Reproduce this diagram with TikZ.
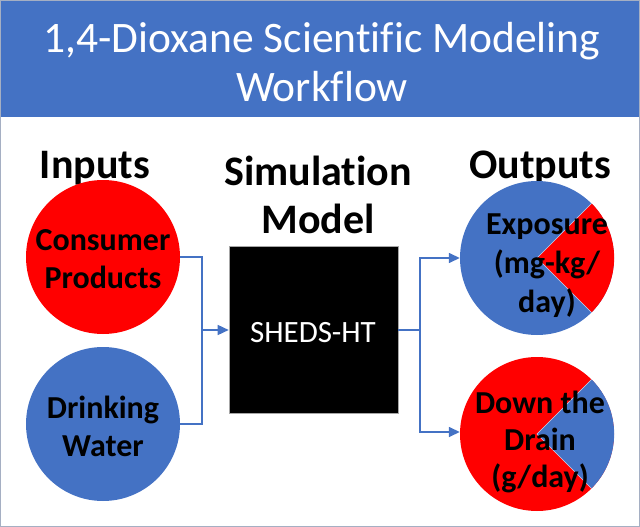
\documentclass[tikz,border=0pt]{standalone}
\usepackage{fontspec}
\setmainfont{Carlito}[Ligatures=NoCommon]
\usetikzlibrary{arrows.meta}
\definecolor{obl}{HTML}{4472C4}
\definecolor{ored}{HTML}{FF0000}
\definecolor{frame}{RGB}{165,175,195}
\tikzset{
  conn/.style={draw=obl, line width=1.5pt},
  arr/.style={conn, -{Triangle[length=11pt,width=10pt]}},
  head/.style={font=\bfseries\fontsize{42}{48}\selectfont, anchor=base, inner sep=0pt},
  ttl/.style={font=\fontsize{43.5}{48}\selectfont, text=white, anchor=base, inner sep=0pt},
  ctext/.style={font=\bfseries\fontsize{32}{38}\selectfont, align=center, inner sep=0pt},
  disc/.style={circle, minimum size=154pt, inner sep=0pt},
}
\begin{document}
\begin{tikzpicture}[x=1pt,y=-1pt]
\useasboundingbox (0,0) rectangle (640,527);
% title bar
\fill[obl] (0,0) rectangle (640,117);
\draw[frame, line width=1.2pt] (0.6,0.6) rectangle (639.4,526.4);
\node[ttl] (t1) at (322,53) {1,4-Dioxane Scientific Modeling};
\node[ttl] (t2) at (322,101) {Workflow};
% headings
\node[head] (hin) at (95,178) {Inputs};
\node[head] (hsim) at (318,185) {Simulation};
\node[head] (hmod) at (318,233) {Model};
\node[head] (hout) at (540,178) {Outputs};
% inputs
\node[disc, fill=ored] (cp) at (103,257) {};
\node[ctext] (cpt) at (103,259) {Consumer\\Products};
\node[disc, fill=obl] (dw) at (103,424) {};
\node[ctext] (dwt) at (103,426) {Drinking\\Water};
% model box
\node[draw=gray!70, line width=0.6pt, fill=black, minimum width=169pt, minimum height=167pt, inner sep=0pt] (box) at (313.5,329.5) {};
\node[font=\fontsize{31}{36}\selectfont, text=white, anchor=base, inner sep=0pt] (sh) at (313,342) {SHEDS-HT};
% outputs
\node[disc, fill=obl] (p1) at (537,258) {};
\fill[ored] (p1.center) -- (p1.45) arc[start angle=45, end angle=-45, radius=77pt] -- cycle;
\draw[white!70!obl, line width=0.5pt] (p1.45) -- (p1.center) -- (p1.-45);
\node[ctext, font=\bfseries\fontsize{32}{39}\selectfont] (p1t) at (547,266) {Exposure\\(mg-kg/\\day)};
\node[disc, fill=ored] (p2) at (537,434) {};
\fill[obl] (p2.center) -- (p2.45) arc[start angle=45, end angle=-45, radius=77pt] -- cycle;
\draw[white!70!obl, line width=0.5pt] (p2.45) -- (p2.center) -- (p2.-45);
\node[ctext, font=\bfseries\fontsize{32}{37}\selectfont] (p2t) at (540,442) {Down the\\Drain\\(g/day)};
% connectors
\coordinate (lj1) at (202,257);
\coordinate (lj2) at (202,424);
\coordinate (lm) at (202,330);
\draw[conn] (cp.east) -- (lj1) -- (lj2) -- (dw.east);
\draw[arr] (lm) -- (box.west |- lm);
\coordinate (rm) at (420,330);
\coordinate (r1) at (420,258);
\coordinate (r2) at (420,432);
\draw[conn] (box.east |- rm) -- (rm);
\draw[arr] (rm) -- (r1) -- (p1.west);
\draw[arr] (rm) -- (r2) -- (p2.west |- r2);
\end{tikzpicture}
\end{document}
